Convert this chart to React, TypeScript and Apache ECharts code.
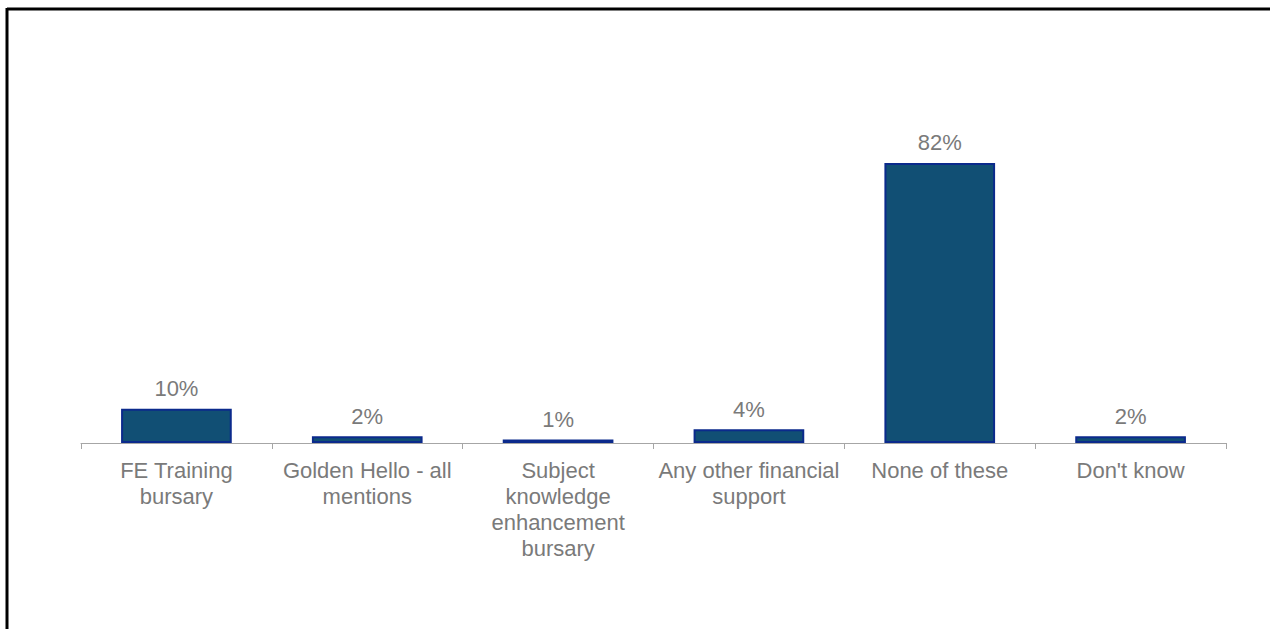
import React, { useEffect, useRef } from "react";
import * as echarts from "echarts";

const categories = [
  "FE Training\nbursary",
  "Golden Hello - all\nmentions",
  "Subject\nknowledge\nenhancement\nbursary",
  "Any other financial\nsupport",
  "None of these",
  "Don't know",
];
const values = [10, 2, 1, 4, 82, 2];

export default function App() {
  const ref = useRef<HTMLDivElement>(null);
  useEffect(() => {
    const chart = echarts.init(ref.current!, null, { renderer: "svg" });
    chart.setOption({
      animation: false,
      grid: { left: 81, right: 44, top: 101.5, height: 341.5, containLabel: false },
      xAxis: {
        type: "category",
        data: categories,
        axisLine: { lineStyle: { color: "#a6a6a6", width: 1 } },
        axisTick: { show: true, length: 6, lineStyle: { color: "#a6a6a6" }, alignWithLabel: false },
        axisLabel: {
          color: "#7a7a7a",
          fontSize: 22,
          fontFamily: "Liberation Sans, Arial, sans-serif",
          lineHeight: 26,
          margin: 14,
          interval: 0,
          verticalAlign: "top",
        },
      },
      yAxis: { type: "value", min: 0, max: 100, show: false, splitLine: { show: false } },
      series: [
        {
          type: "bar",
          data: values,
          barWidth: "58%",
          itemStyle: { color: "#114f74", borderColor: "#0b2a8c", borderWidth: 2 },
          label: {
            show: true,
            position: "top",
            distance: 9,
            formatter: "{c}%",
            color: "#7a7a7a",
            fontSize: 22,
            fontFamily: "Liberation Sans, Arial, sans-serif",
          },
        },
      ],
      graphic: [
        { type: "line", shape: { x1: 7, y1: 9, x2: 1270, y2: 9 }, style: { stroke: "#000", lineWidth: 3 } },
        { type: "line", shape: { x1: 7, y1: 8, x2: 7, y2: 629 }, style: { stroke: "#000", lineWidth: 3 } },
      ],
    });
    return () => chart.dispose();
  }, []);
  return (
    <div
      ref={ref}
      style={{ position: "absolute", left: 0, top: 0, width: 1270, height: 629, background: "#fff" }}
    />
  );
}
